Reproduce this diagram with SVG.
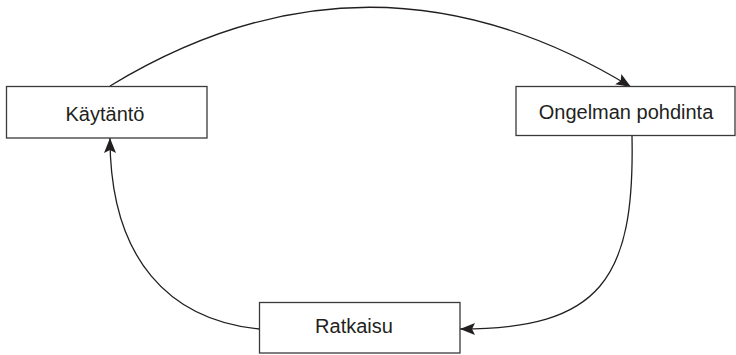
<svg xmlns="http://www.w3.org/2000/svg" width="736" height="355" viewBox="0 0 736 355">
<defs>
<style>
.box{fill:#fff;stroke:#3a3a3a;stroke-width:1.3}
.lbl{font-family:"Liberation Sans",Arial,sans-serif;font-size:20px;fill:#231f20;text-anchor:middle}
.con{fill:none;stroke:#231f20;stroke-width:1.3}
</style>
<marker id="arr" viewBox="0 0 15 12" refX="15" refY="6" markerWidth="15" markerHeight="12" markerUnits="userSpaceOnUse" orient="auto">
<path d="M0,0 L15,6 L0,12 L3,6 Z" fill="#231f20"/>
</marker>
</defs>
<rect width="736" height="355" fill="#fff"/>
<g id="connectors">
<path class="con" d="M110,86 Q370,-72 631,87" marker-end="url(#arr)"/>
<path class="con" d="M632,136 C635,280 600,329 460,329" marker-end="url(#arr)"/>
<path class="con" d="M259,329 C170,320 110,260 110,138" marker-end="url(#arr)"/>
</g>
<g id="kaytanto">
<rect class="box" x="6.5" y="86.5" width="200.5" height="51.5"/>
<text class="lbl" x="105" y="121">Käytäntö</text>
</g>
<g id="ongelman-pohdinta">
<rect class="box" x="516" y="86.5" width="219" height="49"/>
<text class="lbl" x="626" y="118.5">Ongelman pohdinta</text>
</g>
<g id="ratkaisu">
<rect class="box" x="259.5" y="302.5" width="200.5" height="50.5"/>
<text class="lbl" x="354" y="333">Ratkaisu</text>
</g>
</svg>
